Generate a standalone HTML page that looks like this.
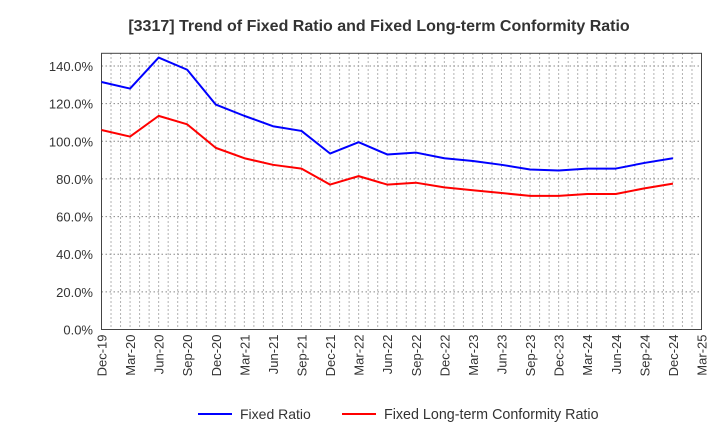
<!DOCTYPE html>
<html><head><meta charset="utf-8"><style>
body{margin:0;background:#fff;font-family:"Liberation Sans",sans-serif}
</style></head><body>
<svg id="c" width="720" height="440" xmlns="http://www.w3.org/2000/svg">
<text x="379" y="31" text-anchor="middle" font-size="16" font-weight="bold" fill="#333">[3317]  Trend of Fixed Ratio and Fixed Long-term Conformity Ratio</text>
<g id="grid"></g><g id="axes"></g><g id="series"></g>
<g>
<line x1="198" y1="414" x2="232" y2="414" stroke="#0000ff" stroke-width="2"/>
<text x="240" y="419" font-size="14" fill="#333">Fixed Ratio</text>
<line x1="342" y1="414" x2="376" y2="414" stroke="#ff0000" stroke-width="2"/>
<text x="384" y="419" font-size="14.3" fill="#333">Fixed Long-term Conformity Ratio</text>
</g>
</svg>
<script>
const categories=["Dec-19","Mar-20","Jun-20","Sep-20","Dec-20","Mar-21","Jun-21","Sep-21","Dec-21","Mar-22","Jun-22","Sep-22","Dec-22","Mar-23","Jun-23","Sep-23","Dec-23","Mar-24","Jun-24","Sep-24","Dec-24","Mar-25"];
const fixedRatio=[131.5,128,144.5,138,119.5,113.5,108,105.5,93.5,99.5,93,94,91,89.5,87.5,85,84.5,85.5,85.5,88.5,91];
const conformityRatio=[106,102.5,113.5,109,96.5,91,87.5,85.5,77,81.5,77,78,75.5,74,72.5,71,71,72,72,75,77.5];
const yTicks=[0,20,40,60,80,100,120,140];
const NS="http://www.w3.org/2000/svg";
const L=101.5,R=701.5,T=53.3,B=329.5;
const step=(R-L)/(categories.length-1);
const x=i=>L+i*step;
const y=v=>B-v*(B-66)/140;
function mk(tag,attrs,parent){const e=document.createElementNS(NS,tag);for(const k in attrs)e.setAttribute(k,attrs[k]);parent.appendChild(e);return e;}
const grid=document.getElementById('grid'),axes=document.getElementById('axes'),ser=document.getElementById('series');
for(let m=1;m<(categories.length-1)*3;m++){
 const gx=L+m*step/3;
 const g=mk('line',{x1:gx,x2:gx,y1:T,y2:B,stroke:'#999','stroke-dasharray':'1.5,2.5','stroke-width':1},grid);
 
 
}
yTicks.forEach(t=>{
 if(t>0){const g=mk('line',{x1:L,x2:R,y1:y(t),y2:y(t),stroke:'#888','stroke-dasharray':'1.5,2.5','stroke-width':1},grid);
 
 }
 const tx=mk('text',{x:93,y:y(t)+5,'text-anchor':'end','font-size':13,fill:'#333'},axes);
 tx.textContent=t.toFixed(1)+'%';
 
 
});
const frame=mk('rect',{x:L,y:T,width:R-L,height:B-T,fill:'none',stroke:'#444','stroke-width':1},axes);


categories.forEach((c,i)=>{
 const tx=mk('text',{transform:`translate(${x(i)+5},${B+5}) rotate(-90)`,'text-anchor':'end','font-size':13,fill:'#333'},axes);
 tx.textContent=c;
 
 
});
function line(data,color,name){
 const p=mk('polyline',{points:data.map((v,i)=>x(i)+','+y(v)).join(' '),fill:'none',stroke:color,'stroke-width':2,'stroke-linejoin':'round'},ser);
 
 
}
line(fixedRatio,'#0000ff','fixed-ratio-line');
line(conformityRatio,'#ff0000','conformity-ratio-line');
</script>
</body></html>
